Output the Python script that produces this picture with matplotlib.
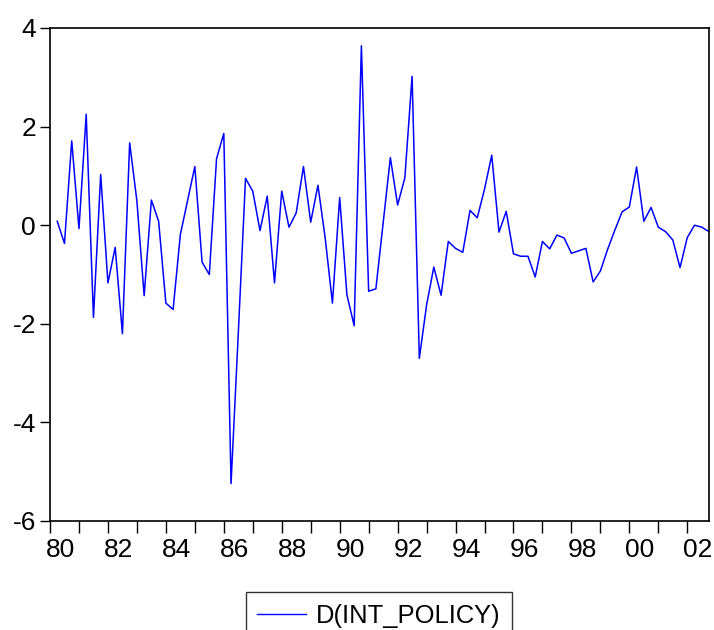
import matplotlib
matplotlib.use("Agg")
import matplotlib.pyplot as plt
import numpy as np

# D(INT_POLICY), quarterly, 1980Q2 - 2002Q4
d_int_policy = [
    0.08, -0.37, 1.71, -0.07, 2.25, -1.87, 1.03, -1.17, -0.45, -2.20,
    1.67, 0.49, -1.43, 0.51, 0.08, -1.58, -1.71, -0.19, 0.50, 1.19,
    -0.75, -1.00, 1.35, 1.86, -5.24, -2.20, 0.95, 0.69, -0.11, 0.59,
    -1.17, 0.69, -0.04, 0.25, 1.19, 0.06, 0.81, -0.26, -1.58, 0.56,
    -1.41, -2.04, 3.64, -1.34, -1.29, 0.04, 1.37, 0.41, 0.96, 3.02,
    -2.70, -1.62, -0.85, -1.42, -0.33, -0.47, -0.55, 0.30, 0.15, 0.73,
    1.42, -0.14, 0.28, -0.58, -0.63, -0.63, -1.05, -0.33, -0.48, -0.20,
    -0.26, -0.57, -0.52, -0.47, -1.15, -0.93, -0.49, -0.10, 0.27, 0.37,
    1.18, 0.08, 0.36, -0.04, -0.13, -0.30, -0.86, -0.25, 0.00, -0.04,
    -0.13,
]
start_year = 1980
start_quarter = 2
year_labels = ["80", "82", "84", "86", "88", "90", "92", "94", "96", "98", "00", "02"]
y_ticks = [-6, -4, -2, 0, 2, 4]

x = start_year + (start_quarter - 1) / 4 + 0.25 * np.arange(len(d_int_policy))

plt.rcParams['font.family'] = ['Liberation Sans', 'DejaVu Sans']
plt.rcParams['axes.unicode_minus'] = False

fig = plt.figure(figsize=(7.14, 6.3), dpi=100)
ax = fig.add_axes([50 / 714, 1 - 521 / 630, 659 / 714, 493 / 630])

ax.plot(x, d_int_policy, color='#0000ff', linewidth=1.1, label='D(INT_POLICY)')

ax.set_xlim(1980, 2002.75)
ax.set_ylim(-6, 4)

# year ticks every year, labels every other year shifted a bit right
ax.set_xticks(np.arange(1980, 2003))
ax.set_xticklabels([])
label_pos = [1980 + 2 * k + 0.37 for k in range(len(year_labels))]
ax.set_xticks(label_pos, minor=True)
ax.set_xticklabels(year_labels, minor=True)
ax.tick_params(axis='x', which='major', direction='out', length=8.5, width=1)
ax.tick_params(axis='x', which='minor', length=0, pad=12, labelsize=19)

ax.set_yticks(y_ticks)
ax.set_yticklabels([str(v) for v in y_ticks])
ax.tick_params(axis='y', direction='out', length=7, width=1, pad=3, labelsize=19)

for s in ax.spines.values():
    s.set_linewidth(1.2)
    s.set_color('black')

leg = fig.legend(loc='upper center', bbox_to_anchor=(379 / 714, 1 - 592 / 630),
                 fontsize=18.4, frameon=True, fancybox=False, edgecolor='black',
                 handlelength=1.9, handletextpad=0.4, borderpad=0.45,
                 borderaxespad=0)
leg.get_frame().set_linewidth(1.0)
for h in leg.get_lines():
    h.set_linewidth(1.0)

fig.savefig('out.png', dpi=100)
